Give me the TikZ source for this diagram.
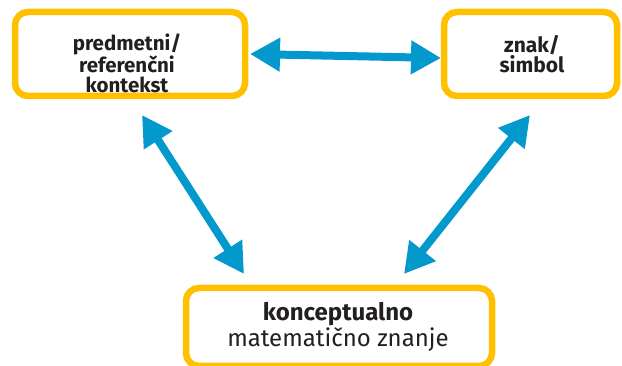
\documentclass[tikz,border=0pt]{standalone}
\usepackage{fontspec}
\setmainfont{Fira Sans}
\usetikzlibrary{arrows.meta}
\definecolor{boxyellow}{HTML}{FFC000}
\definecolor{arrowblue}{HTML}{0399CC}
\definecolor{txt}{HTML}{231F20}
\begin{document}
\begin{tikzpicture}[x=1pt,y=-1pt,
  concept/.style={draw=boxyellow, line width=6.5pt, rounded corners=13pt,
    fill=white, inner sep=0pt},
  caption/.style={align=center, text=txt, inner sep=0pt},
  link/.style={draw=arrowblue, line width=8pt,
    {Triangle[length=30pt,width=32pt]}-{Triangle[length=30pt,width=32pt]}}]
  \useasboundingbox (0,0) rectangle (622,366);
  % three concept boxes
  \node[concept, minimum width=230pt, minimum height=84pt] (ctx) at (130,54) {};
  \node[concept, minimum width=173pt, minimum height=84pt] (sym) at (530.5,54) {};
  \node[concept, minimum width=306pt, minimum height=78pt] (know) at (339,327) {};
  % their texts
  \node[caption, font=\fontsize{20.5}{19.5}\selectfont\bfseries] (ctxT) at (127,63)
        {predmetni/\\referenčni\\kontekst};
  \node[caption, font=\fontsize{21}{18.5}\selectfont\bfseries] (symT) at (532,54)
        {znak/\\simbol};
  \node[caption, font=\fontsize{24}{23}\selectfont] (knowT) at (338,327)
        {\textbf{konceptualno}\\matematično znanje};
  % arrow end points
  \coordinate (ctxR) at (250,54);
  \coordinate (symL) at (441,58);
  \coordinate (ctxB) at (142,115);
  \coordinate (knowL) at (244,274);
  \coordinate (symB) at (530,115);
  \coordinate (knowR) at (404,274);
  % two-way links
  \draw[link] (ctxR) -- (symL);
  \draw[link] (ctxB) -- (knowL);
  \draw[link] (symB) -- (knowR);
\end{tikzpicture}
\end{document}
